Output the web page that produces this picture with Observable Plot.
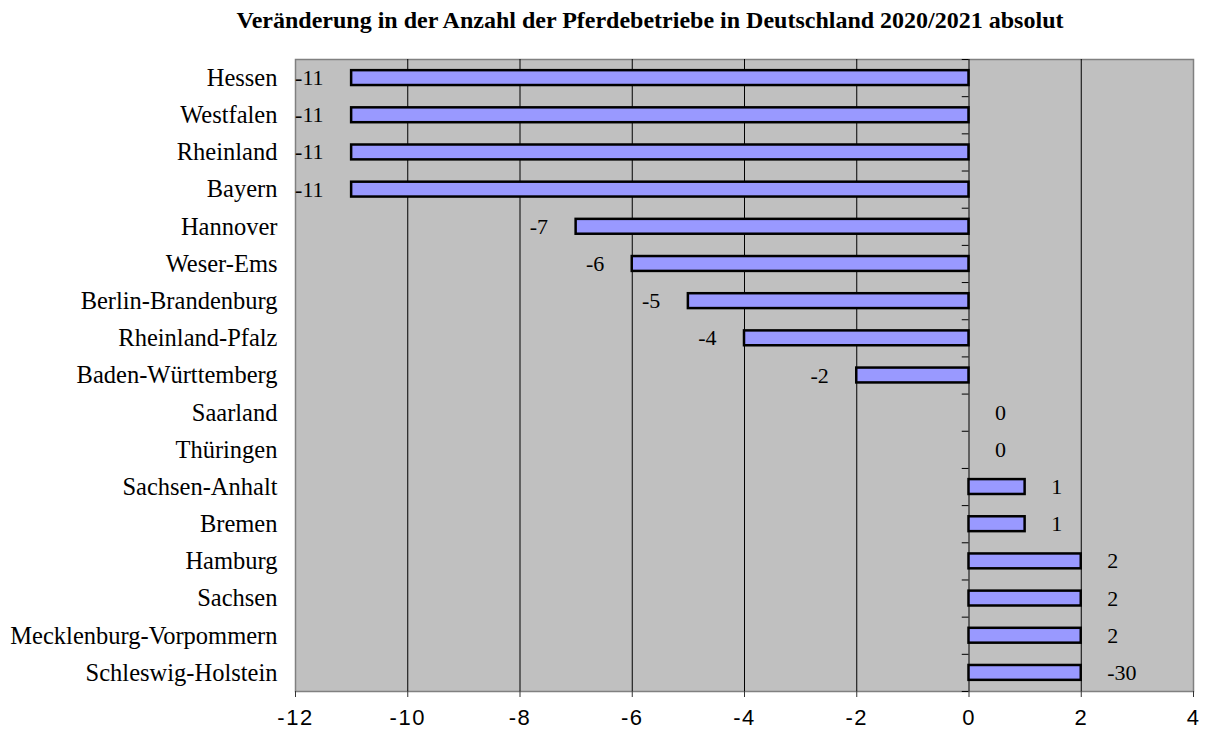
<!DOCTYPE html>
<html><head><meta charset="utf-8">
<script src="https://cdn.jsdelivr.net/npm/d3@7"></script>
<script src="https://cdn.jsdelivr.net/npm/@observablehq/plot@0.6"></script>
<style>
body{margin:0;background:#fff;}
#wrap{position:relative;width:1209px;height:731px;}
#title{position:absolute;left:0;width:1300px;top:7px;text-align:center;font:bold 24px "Liberation Serif","Times New Roman",serif;color:#000;white-space:nowrap;}
</style></head>
<body><div id="wrap"><div id="title">Veränderung in der Anzahl der Pferdebetriebe in Deutschland 2020/2021 absolut</div></div>
<script>
const states = ["Hessen","Westfalen","Rheinland","Bayern","Hannover","Weser-Ems","Berlin-Brandenburg","Rheinland-Pfalz","Baden-Württemberg","Saarland","Thüringen","Sachsen-Anhalt","Bremen","Hamburg","Sachsen","Mecklenburg-Vorpommern","Schleswig-Holstein"];
const values = [-11,-11,-11,-11,-7,-6,-5,-4,-2,0,0,1,1,2,2,2,2];
const labels = ["-11","-11","-11","-11","-7","-6","-5","-4","-2","0","0","1","1","2","2","2","-30"];
const xTicks = [-12,-10,-8,-6,-4,-2,0,2,4];

const data = states.map((s,i)=>({state:s, value:values[i], label:labels[i]}));
const H = 731, mt = 59, mb = 40;
const step = (H - mt - mb) / states.length;

const chart = Plot.plot({
  width: 1209, height: H,
  marginTop: mt, marginBottom: mb, marginLeft: 295, marginRight: 16,
  x: {domain: [-12, 4], ticks: xTicks, label: null},
  y: {domain: states, paddingInner: 0.6, paddingOuter: 0.3, align: 0.5, round: false, label: null},
  style: {background: "transparent"},
  marks: [
    Plot.frame({fill: "#C0C0C0", stroke: "#808080", strokeWidth: 1.5}),
    Plot.ruleX(xTicks.filter(t => t > -12 && t < 4), {stroke: "#000", strokeWidth: 1}),
    Plot.ruleY(states, {y: d => d, x1: -0.12, x2: 0, dy: -step/2, stroke: "#000"}),
    Plot.ruleY([states[states.length-1]], {y: d => d, x1: -0.12, x2: 0, dy: step/2, stroke: "#000"}),
    Plot.barX(data.filter(d => d.value !== 0), {x: "value", y: "state", fill: "#9999FF", stroke: "#000", strokeWidth: 2.5}),
    Plot.text(data.filter(d => d.value < 0), {x: "value", y: "state", text: "label", textAnchor: "end", dx: -28, fontSize: 22, fontFamily: "Liberation Serif", fill: "#000"}),
    Plot.text(data.filter(d => d.value >= 0), {x: "value", y: "state", text: "label", textAnchor: "start", dx: 26, fontSize: 22, fontFamily: "Liberation Serif", fill: "#000"}),
    Plot.axisX({ticks: xTicks, tickFormat: d => String(d), tickSize: 6, tickPadding: 12, fontSize: 22, fontFamily: "Liberation Sans, Arial", stroke: "#333"}),
    Plot.axisY({tickSize: 0, tickPadding: 18, fontSize: 24.5, fontFamily: "Liberation Serif", textAnchor: "end"}),
    Plot.ruleY([0], {frameAnchor: "bottom", stroke: "#333", strokeWidth: 2})
  ]
});
chart.querySelectorAll('g[aria-label^="x-axis"] text').forEach(t => {
  t.style.letterSpacing = "1.5px";
});
chart.style.position = "absolute"; chart.style.left = "0"; chart.style.top = "0";
document.getElementById("wrap").prepend(chart);
</script></body></html>
